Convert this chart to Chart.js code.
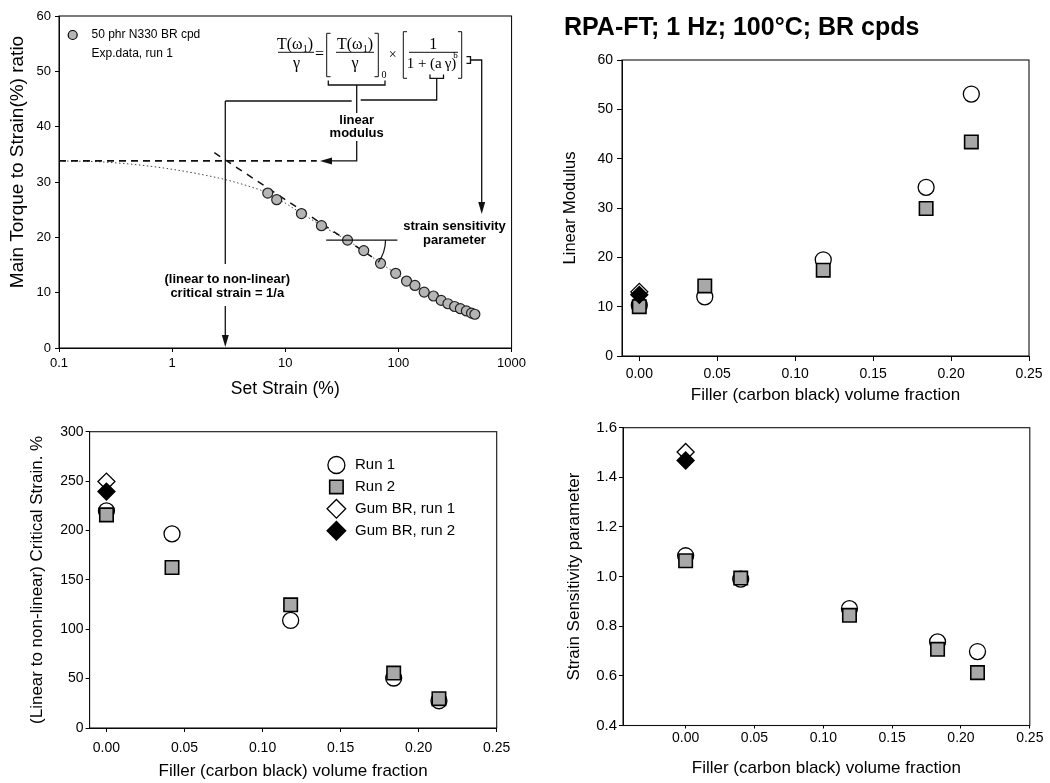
<!DOCTYPE html>
<html><head><meta charset="utf-8">
<script src="https://cdn.jsdelivr.net/npm/chart.js@4.4.1/dist/chart.umd.min.js"></script>
<style>
html,body{margin:0;padding:0;background:#fff;}
body{width:1050px;height:783px;position:relative;overflow:hidden;}
canvas{position:absolute;}
</style></head><body>
<canvas id="c1" width="530" height="400" style="left:0;top:0"></canvas>
<canvas id="c2" width="520" height="410" style="left:530px;top:0"></canvas>
<canvas id="c3" width="530" height="383" style="left:0;top:400px"></canvas>
<canvas id="c4" width="520" height="383" style="left:530px;top:400px"></canvas>
<script>
// ---------------- DATA ----------------
// Panel 1: strain sweep, 50 phr N330 BR compound, run 1
const strainPct = [7.0, 8.4, 13.9, 20.9, 35.5, 49.4, 69.5, 94.6, 118, 140, 169, 204, 239, 274, 314, 353, 399, 443, 474];
const torqueRatio = [28.0, 26.8, 24.3, 22.1, 19.5, 17.6, 15.3, 13.5, 12.1, 11.3, 10.1, 9.4, 8.6, 8.0, 7.5, 7.1, 6.7, 6.3, 6.1];
const fitStrain = [0.1, 0.2, 0.3, 0.5, 1, 2, 3, 5, 7, 14, 21, 35, 49, 70, 95, 140, 200, 270, 350, 470];
const fitRatio = [33.8, 33.7, 33.5, 33.1, 32.3, 31.2, 30.4, 29.1, 28.0, 24.3, 22.1, 19.5, 17.6, 15.3, 13.5, 11.3, 9.4, 8.0, 7.1, 6.1];
const tangentStrain = [2.36, 70];
const tangentRatio = [35.3, 15.4];
const linearModulusStrain = [0.1, 19];
const linearModulusRatio = [33.8, 33.8];
const criticalStrain = 2.95;
const angleStrain = [23, 98];
const angleRatio = 19.5;
const angleVertexStrain = 35.5;
const strainTicks = [0.1, 1, 10, 100, 1000];
const ratioTicks = [0, 10, 20, 30, 40, 50, 60];

// Panels 2-4: filler volume fraction series
const fillerFraction = [0, 0.042, 0.118, 0.184, 0.213];
const fillerFractionSS = [0, 0.040, 0.119, 0.183, 0.212];
const gumFraction = [0];
const modulusRun1 = [10.3, 12.0, 19.5, 34.2, 53.1];
const modulusRun2 = [10.0, 14.2, 17.4, 29.9, 43.4];
const modulusGum1 = [13.0];
const modulusGum2 = [12.4];
const critRun1 = [219.8, 196.6, 108.9, 50.6, 27.6];
const critRun2 = [215.8, 162.5, 124.7, 55.6, 29.7];
const critGum1 = [249.5];
const critGum2 = [239.4];
const ssRun1 = [1.084, 0.990, 0.871, 0.737, 0.698];
const ssRun2 = [1.064, 0.994, 0.844, 0.707, 0.613];
const ssGum1 = [1.502];
const ssGum2 = [1.468];
const fractionTicks = [0, 0.05, 0.10, 0.15, 0.20, 0.25];
const modulusTicks = [0, 10, 20, 30, 40, 50, 60];
const critTicks = [0, 50, 100, 150, 200, 250, 300];
const ssTicks = [0.4, 0.6, 0.8, 1.0, 1.2, 1.4, 1.6];
const seriesLabels = ['Run 1', 'Run 2', 'Gum BR, run 1', 'Gum BR, run 2'];

// ---------------- STYLE ----------------
const FONT = "'Liberation Sans', Arial, Helvetica, sans-serif";
const SERIF = "'Liberation Serif', 'Times New Roman', serif";
Chart.defaults.font.family = FONT;
Chart.defaults.color = '#000';

const styles = [
  {pointStyle: 'circle', radius: 8, fill: '#ffffff', bw: 1.3},
  {pointStyle: 'rect', radius: 9.5, fill: '#a8a8a8', bw: 1.6},
  {pointStyle: 'rectRot', radius: 8.5, fill: '#ffffff', bw: 1.3},
  {pointStyle: 'rectRot', radius: 8.5, fill: '#000000', bw: 1.3}
];
const orders = [3, 2, 1, 0];

function pts(xs, ys) { return xs.map((x, i) => ({x: x, y: ys[i]})); }

function markerSet(label, xs, ys, k) {
  const s = styles[k];
  return {label: label, data: pts(xs, ys), showLine: false,
    pointStyle: s.pointStyle, pointRadius: s.radius, pointHoverRadius: s.radius,
    pointBackgroundColor: s.fill, pointBorderColor: '#000', pointBorderWidth: s.bw,
    order: orders[k]};
}

function axis(o) {
  return {
    type: o.type || 'linear', position: o.position, min: o.min, max: o.max,
    afterBuildTicks: s => { s.ticks = o.ticks.map(v => ({value: v})); },
    afterFit: s => { if (o.position === 'bottom') s.height = o.fit; else s.width = o.fit; },
    grid: {display: true, drawOnChartArea: false, drawTicks: true, tickLength: o.tickLen, color: '#000', lineWidth: 1},
    border: {display: true, color: '#000', width: 1},
    ticks: {autoSkip: false, maxRotation: 0, minRotation: 0, padding: o.pad, font: {size: o.size}, color: '#000', callback: o.fmt},
    title: {display: !!o.title, text: o.title || '', font: {size: o.titleSize}, color: '#000', padding: o.titlePad || 0}
  };
}

const framePlugin = {
  id: 'frame',
  beforeDatasetsDraw(chart) {
    const a = chart.chartArea, ctx = chart.ctx;
    ctx.save(); ctx.strokeStyle = '#111'; ctx.lineWidth = 1.1;
    ctx.strokeRect(a.left, a.top, a.right - a.left, a.bottom - a.top);
    ctx.restore();
  }
};

function drawMarker(ctx, s, x, y) {
  ctx.fillStyle = s.fill; ctx.strokeStyle = '#000'; ctx.lineWidth = s.bw;
  if (Chart.helpers && Chart.helpers.drawPoint) {
    Chart.helpers.drawPoint(ctx, {pointStyle: s.pointStyle, radius: s.radius, rotation: 0, borderWidth: s.bw}, x, y);
  } else {
    ctx.beginPath(); ctx.arc(x, y, s.radius, 0, Math.PI * 2); ctx.fill(); ctx.stroke();
  }
}

const baseOpts = {responsive: false, animation: false, devicePixelRatio: 1, events: []};

// ---------------- PANEL 1 ----------------
function drawTw(ctx, xc, y) {
  const f = '16px ' + SERIF, fs = '10px ' + SERIF;
  ctx.font = f; const a = ctx.measureText('T(\u03C9').width; const c = ctx.measureText(')').width;
  ctx.font = fs; const b = ctx.measureText('1').width;
  let x0 = xc - (a + b + c) / 2;
  ctx.textAlign = 'left';
  ctx.font = f; ctx.fillText('T(\u03C9', x0, y);
  ctx.font = fs; ctx.fillText('1', x0 + a, y + 4);
  ctx.font = f; ctx.fillText(')', x0 + a + b, y);
}

const tlPlugin = {
  id: 'tlAnn',
  afterDraw(chart) {
    const {ctx, scales: {x, y}} = chart;
    const cx = x.getPixelForValue(criticalStrain);
    const yLin = y.getPixelForValue(linearModulusRatio[0]);
    const y0 = y.getPixelForValue(0);
    ctx.save();
    ctx.strokeStyle = '#111'; ctx.fillStyle = '#111'; ctx.lineWidth = 1.3;
    const line = p => { ctx.beginPath(); ctx.moveTo(p[0][0], p[0][1]); for (let i = 1; i < p.length; i++) ctx.lineTo(p[i][0], p[i][1]); ctx.stroke(); };
    const arrow = (tx, ty, dir) => {
      ctx.beginPath();
      if (dir === 'down') { ctx.moveTo(tx, ty); ctx.lineTo(tx - 3.5, ty - 12); ctx.lineTo(tx + 3.5, ty - 12); }
      else { ctx.moveTo(tx, ty); ctx.lineTo(tx + 12, ty - 3.5); ctx.lineTo(tx + 12, ty + 3.5); }
      ctx.closePath(); ctx.fill();
    };
    // connector from formula to critical strain
    const stemX = 356.7, braceX = 436.7, connY = 101;
    line([[cx, connY], [stemX - 5, connY]]);
    line([[stemX + 4, connY - 1], [braceX, connY - 1], [braceX, 78.3]]);
    line([[430, 74.5], [430, 78.3], [443.5, 78.3], [443.5, 74.5]]);
    line([[cx, connY], [cx, 264]]);
    line([[cx, 306], [cx, y0 - 10]]);
    arrow(cx, y0 - 1, 'down');
    // linear modulus
    line([[328.3, 80.5], [328.3, 85], [385, 85], [385, 80.5]]);
    line([[stemX, 85], [stemX, 113]]);
    line([[stemX, 141], [stemX, yLin], [330, yLin]]);
    arrow(320, yLin, 'left');
    // strain sensitivity pointer
    line([[466.5, 56.7], [470.5, 56.7], [470.5, 63.3], [466.5, 63.3]]);
    line([[470.5, 60], [481.7, 60], [481.7, 203]]);
    arrow(481.7, 214, 'down');
    // slope angle
    const ay = y.getPixelForValue(angleRatio);
    ctx.lineWidth = 1.2;
    line([[x.getPixelForValue(angleStrain[0]), ay], [x.getPixelForValue(angleStrain[1]), ay]]);
    const vx = x.getPixelForValue(angleVertexStrain);
    ctx.beginPath(); ctx.arc(vx, ay, 38, 0, 36 * Math.PI / 180); ctx.stroke();
    // annotation texts
    ctx.fillStyle = '#000';
    ctx.font = 'bold 13px ' + FONT; ctx.textAlign = 'center'; ctx.textBaseline = 'middle';
    ctx.fillText('(linear to non-linear)', cx + 2, 279);
    ctx.fillText('critical strain = 1/a', cx + 2, 293.3);
    ctx.fillText('linear', stemX, 120.5);
    ctx.fillText('modulus', stemX, 133.5);
    ctx.fillText('strain sensitivity', 454.5, 226.7);
    ctx.fillText('parameter', 454.5, 240.5);
    // formula
    ctx.lineWidth = 1;
    drawTw(ctx, 295, 45);
    line([[278, 52.3], [314, 52.3]]);
    ctx.font = '16px ' + SERIF; ctx.textAlign = 'center';
    ctx.fillText('\u03B3', 296.5, 64);
    ctx.fillText('=', 319.5, 54.5);
    line([[330.5, 33.3], [326.7, 33.3], [326.7, 76.7], [330.5, 76.7]]);
    drawTw(ctx, 355, 45);
    line([[336, 52.3], [374, 52.3]]);
    ctx.font = '16px ' + SERIF; ctx.textAlign = 'center';
    ctx.fillText('\u03B3', 355, 64);
    line([[374.5, 33.3], [378.3, 33.3], [378.3, 76.7], [374.5, 76.7]]);
    ctx.font = '10px ' + SERIF; ctx.fillText('0', 384, 75);
    ctx.font = '14px ' + SERIF; ctx.fillText('\u00D7', 392.7, 55);
    line([[407, 31.7], [403.3, 31.7], [403.3, 78.3], [407, 78.3]]);
    ctx.font = '16px ' + SERIF; ctx.fillText('1', 433.3, 45);
    line([[409, 52.3], [458, 52.3]]);
    ctx.font = '15px ' + SERIF; ctx.fillText('1 + (a\u2009\u03B3)', 431.5, 64);
    ctx.font = '9px ' + SERIF; ctx.fillText('b', 455.5, 55.5);
    line([[458, 31.7], [461.7, 31.7], [461.7, 78.3], [458, 78.3]]);
    // legend
    drawMarker(ctx, {pointStyle: 'circle', radius: 4.5, fill: '#b5b5b5', bw: 1.2}, 72.7, 35);
    ctx.fillStyle = '#000'; ctx.font = '12px ' + FONT; ctx.textAlign = 'left'; ctx.textBaseline = 'middle';
    ctx.fillText('50 phr N330 BR cpd', 91.5, 35);
    ctx.fillText('Exp.data, run 1', 91.5, 54);
    // y title
    ctx.save(); ctx.translate(18, 162); ctx.rotate(-Math.PI / 2);
    ctx.font = '19px ' + FONT; ctx.textAlign = 'center';
    ctx.fillText('Main Torque to Strain(%) ratio', 0, 0);
    ctx.restore();
    ctx.restore();
  }
};

new Chart(document.getElementById('c1'), {
  type: 'scatter',
  data: {datasets: [
    {label: '50 phr N330 BR cpd', data: pts(strainPct, torqueRatio), showLine: false,
     pointStyle: 'circle', pointRadius: 5, pointHoverRadius: 5, pointBackgroundColor: '#b5b5b5',
     pointBorderColor: '#222', pointBorderWidth: 1.2, order: 0},
    {label: 'fit', data: pts(fitStrain, fitRatio), showLine: true, pointRadius: 0, borderColor: '#444',
     borderWidth: 1, borderDash: [1.5, 2.5], cubicInterpolationMode: 'monotone', order: 3},
    {label: 'slope', data: pts(tangentStrain, tangentRatio), showLine: true, pointRadius: 0, borderColor: '#111',
     borderWidth: 1.5, borderDash: [7, 6], order: 2},
    {label: 'linear modulus', data: pts(linearModulusStrain, linearModulusRatio), showLine: true, pointRadius: 0,
     borderColor: '#111', borderWidth: 1.7, borderDash: [7, 5], order: 2}
  ]},
  options: Object.assign({}, baseOpts, {
    layout: {padding: {left: 0, top: 16, right: 15, bottom: 0}},
    plugins: {legend: {display: false}, tooltip: {enabled: false}},
    scales: {
      x: axis({type: 'logarithmic', position: 'bottom', min: 0.1, max: 1000, ticks: strainTicks, fit: 52,
        tickLen: 4, pad: 4, size: 13, fmt: v => String(v), title: 'Set Strain (%)', titleSize: 17.5, titlePad: {top: 0, bottom: 0}}),
      y: axis({position: 'left', min: 0, max: 60, ticks: ratioTicks, fit: 59, tickLen: 4, pad: 4, size: 13,
        fmt: v => String(v)})
    }
  }),
  plugins: [framePlugin, tlPlugin]
});

// ---------------- PANEL 2 ----------------
new Chart(document.getElementById('c2'), {
  type: 'scatter',
  data: {datasets: [
    markerSet(seriesLabels[0], fillerFraction, modulusRun1, 0),
    markerSet(seriesLabels[1], fillerFraction, modulusRun2, 1),
    markerSet(seriesLabels[2], gumFraction, modulusGum1, 2),
    markerSet(seriesLabels[3], gumFraction, modulusGum2, 3)
  ]},
  options: Object.assign({}, baseOpts, {
    layout: {padding: {left: 34, top: 0, right: 21, bottom: 0}},
    plugins: {legend: {display: false}, tooltip: {enabled: false},
      title: {display: true, text: 'RPA-FT; 1 Hz; 100\u00B0C; BR cpds', align: 'start', color: '#000',
        font: {size: 25, weight: 'bold'}, padding: {top: 13, bottom: 17}}},
    scales: {
      x: axis({position: 'bottom', min: -0.0111, max: 0.25, ticks: fractionTicks, fit: 54, tickLen: 5, pad: 5, size: 14,
        fmt: v => v.toFixed(2), title: 'Filler (carbon black) volume fraction', titleSize: 17, titlePad: {top: 0, bottom: 4.8}}),
      y: axis({position: 'left', min: 0, max: 60, ticks: modulusTicks, fit: 58, tickLen: 5, pad: 4, size: 14,
        fmt: v => String(v), title: 'Linear Modulus', titleSize: 16.5, titlePad: {top: -3, bottom: 0}})
    }
  }),
  plugins: [framePlugin]
});

// ---------------- PANEL 3 ----------------
const blLegend = {
  id: 'blLegend',
  afterDraw(chart) {
    const ctx = chart.ctx;
    ctx.save();
    seriesLabels.forEach((lab, i) => {
      const yy = 65 + i * 21.9;
      const s = Object.assign({}, styles[i]);
      if (s.pointStyle === 'circle') s.radius = 8.5;
      if (s.pointStyle === 'rectRot') s.radius = 9.3;
      drawMarker(ctx, s, 336.4, yy);
      ctx.fillStyle = '#000'; ctx.font = '15px ' + FONT; ctx.textAlign = 'left'; ctx.textBaseline = 'middle';
      ctx.fillText(lab, 355, yy);
    });
    ctx.restore();
  }
};

new Chart(document.getElementById('c3'), {
  type: 'scatter',
  data: {datasets: [
    markerSet(seriesLabels[0], fillerFraction, critRun1, 0),
    markerSet(seriesLabels[1], fillerFraction, critRun2, 1),
    markerSet(seriesLabels[2], gumFraction, critGum1, 2),
    markerSet(seriesLabels[3], gumFraction, critGum2, 3)
  ]},
  options: Object.assign({}, baseOpts, {
    layout: {padding: {left: 0, top: 31.7, right: 33.3, bottom: 0}},
    plugins: {legend: {display: false}, tooltip: {enabled: false}},
    scales: {
      x: axis({position: 'bottom', min: -0.0108, max: 0.25, ticks: fractionTicks, fit: 55, tickLen: 4, pad: 8, size: 14,
        fmt: v => v.toFixed(2), title: 'Filler (carbon black) volume fraction', titleSize: 17, titlePad: {top: 0, bottom: 1}}),
      y: axis({position: 'left', min: 0, max: 300, ticks: critTicks, fit: 89.6, tickLen: 4, pad: 2, size: 14,
        fmt: v => String(v), title: '(Linear to non-linear) Critical Strain. %', titleSize: 17, titlePad: {top: 26.8, bottom: 0}})
    }
  }),
  plugins: [framePlugin, blLegend]
});

// ---------------- PANEL 4 ----------------
new Chart(document.getElementById('c4'), {
  type: 'scatter',
  data: {datasets: [
    markerSet(seriesLabels[0], fillerFractionSS, ssRun1, 0),
    markerSet(seriesLabels[1], fillerFractionSS, ssRun2, 1),
    markerSet(seriesLabels[2], gumFraction, ssGum1, 2),
    markerSet(seriesLabels[3], gumFraction, ssGum2, 3)
  ]},
  options: Object.assign({}, baseOpts, {
    layout: {padding: {left: 0, top: 27.7, right: 20.2, bottom: 0}},
    plugins: {legend: {display: false}, tooltip: {enabled: false}},
    scales: {
      x: axis({position: 'bottom', min: -0.0455, max: 0.25, ticks: fractionTicks, fit: 57.5, tickLen: 3, pad: 1, size: 14,
        fmt: v => v.toFixed(2), title: 'Filler (carbon black) volume fraction', titleSize: 17, titlePad: {top: 0, bottom: 4.5}}),
      y: axis({position: 'left', min: 0.4, max: 1.6, ticks: ssTicks, fit: 93, tickLen: 4, pad: 2, size: 15,
        fmt: v => v.toFixed(1), title: 'Strain Sensitivity parameter', titleSize: 17, titlePad: {top: 33.8, bottom: 0}})
    }
  }),
  plugins: [framePlugin]
});
</script>
</body></html>
